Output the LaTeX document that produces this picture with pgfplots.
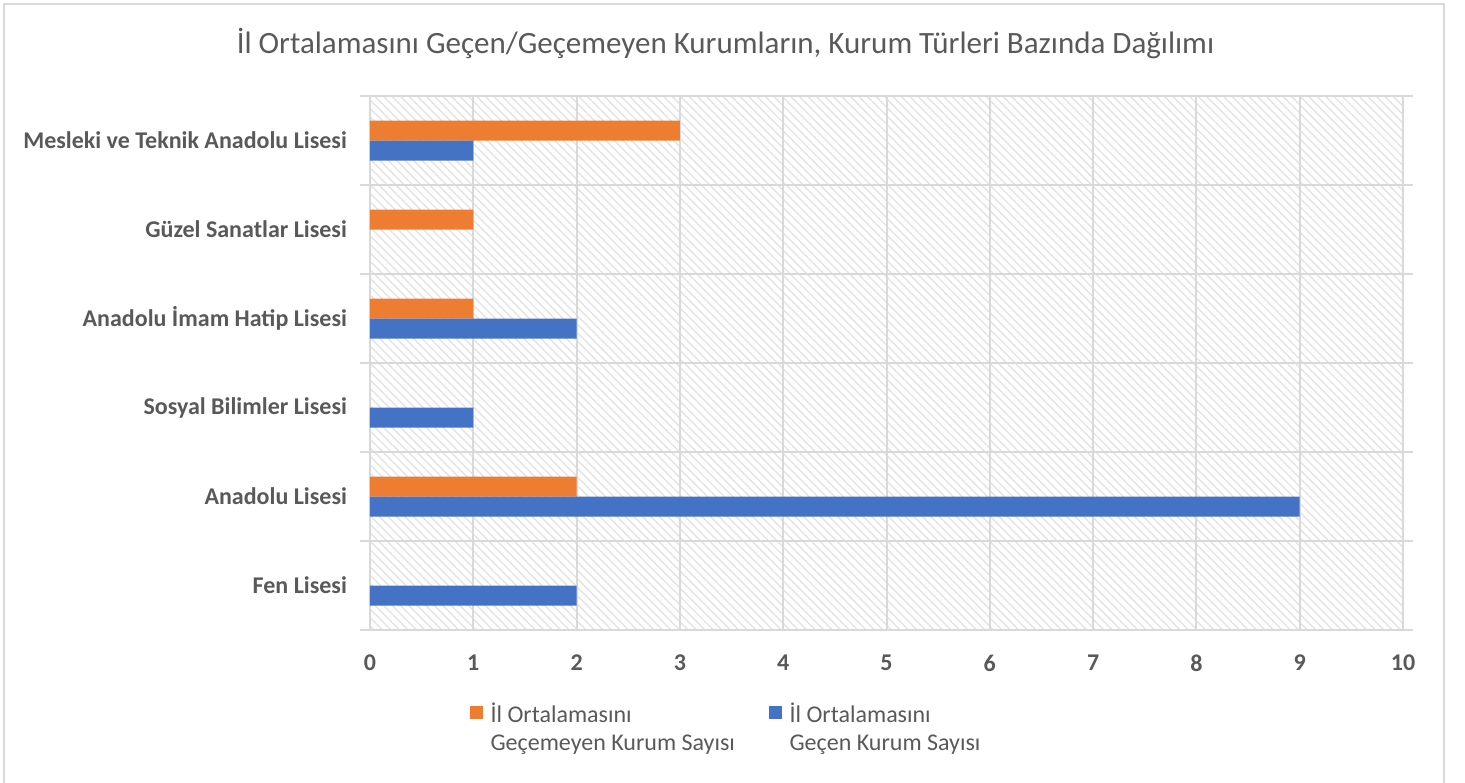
\documentclass[border=0pt]{standalone}
\usepackage{pgfplots}
\pgfplotsset{compat=1.18}
\usepackage{fontspec}
\setmainfont{Carlito}
\usetikzlibrary{patterns.meta}
\definecolor{cOrange}{HTML}{ED7D31}
\definecolor{cBlue}{HTML}{4472C4}
\definecolor{cText}{HTML}{595959}
\definecolor{cGrid}{HTML}{D9D9D9}
\begin{document}
\begin{tikzpicture}
\useasboundingbox (-185pt,-76pt) rectangle (547.5pt,315pt);
\draw[cGrid, line width=1pt] (-183pt,-80pt) -- (-183pt,313pt) -- (537pt,313pt) -- (537pt,-80pt);
\begin{axis}[
  at={(0pt,0pt)}, anchor=south west,
  scale only axis,
  width=516.5pt, height=267pt,
  xbar, bar width=10pt,
  xmin=0, xmax=10,
  ymin=0.5, ymax=6.5,
  xtick={0,1,...,10},
  ytick={1,2,3,4,5,6},
  yticklabels={Fen Lisesi, Anadolu Lisesi, Sosyal Bilimler Lisesi, Anadolu İmam Hatip Lisesi, Güzel Sanatlar Lisesi, Mesleki ve Teknik Anadolu Lisesi},
  minor ytick={0.5,1.5,...,6.5},
  major tick length=0pt,
  minor tick length=5pt,
  tick align=outside,
  tick style={cGrid, line width=1pt},
  ymajorgrids=false, yminorgrids=true, xmajorgrids=true,
  grid style={cGrid, line width=1pt},
  minor grid style={cGrid, line width=1pt},
  axis line style={draw=none},
  axis background/.style={pattern={Lines[angle=-45, distance=3pt, line width=0.7pt]}, pattern color=gray!22},
  /pgf/number format/assume math mode=true,
  every tick label/.append style={font=\fontsize{12}{14}\selectfont\bfseries, text=cText},
  xticklabel style={yshift=-9pt},
  yticklabel style={xshift=-8pt},
  title={İl Ortalamasını Geçen/Geçemeyen Kurumların, Kurum Türleri Bazında Dağılımı},
  title style={font=\fontsize{15.5}{18}\selectfont, text=cText, yshift=9pt, xshift=-80.5pt},
  legend columns=2,
  legend style={at={(0.097,0)}, anchor=north west, yshift=-32pt, xshift=-3.5pt, draw=none, fill=none,
    font=\fontsize{12}{14}\selectfont, text=cText,
    /tikz/every even column/.append style={column sep=7pt}},
  legend image code/.code={\fill[#1] (0pt,-2.5pt) rectangle (6.5pt,4pt);},
  legend cell align=left,
]
\addplot[fill=cOrange, draw=none, bar shift=5pt] coordinates {(2,2) (1,4) (1,5) (3,6)};
\addlegendentry{\begin{tabular}[t]{@{\hspace{2pt}}p{130pt}@{}}İl Ortalamasını\\Geçemeyen Kurum Sayısı\end{tabular}}
\addplot[fill=cBlue, draw=none, bar shift=-5pt] coordinates {(2,1) (9,2) (1,3) (2,4) (1,6)};
\addlegendentry{\begin{tabular}[t]{@{\hspace{2pt}}l@{}}İl Ortalamasını\\Geçen Kurum Sayısı\end{tabular}}
\end{axis}
\end{tikzpicture}
\end{document}
